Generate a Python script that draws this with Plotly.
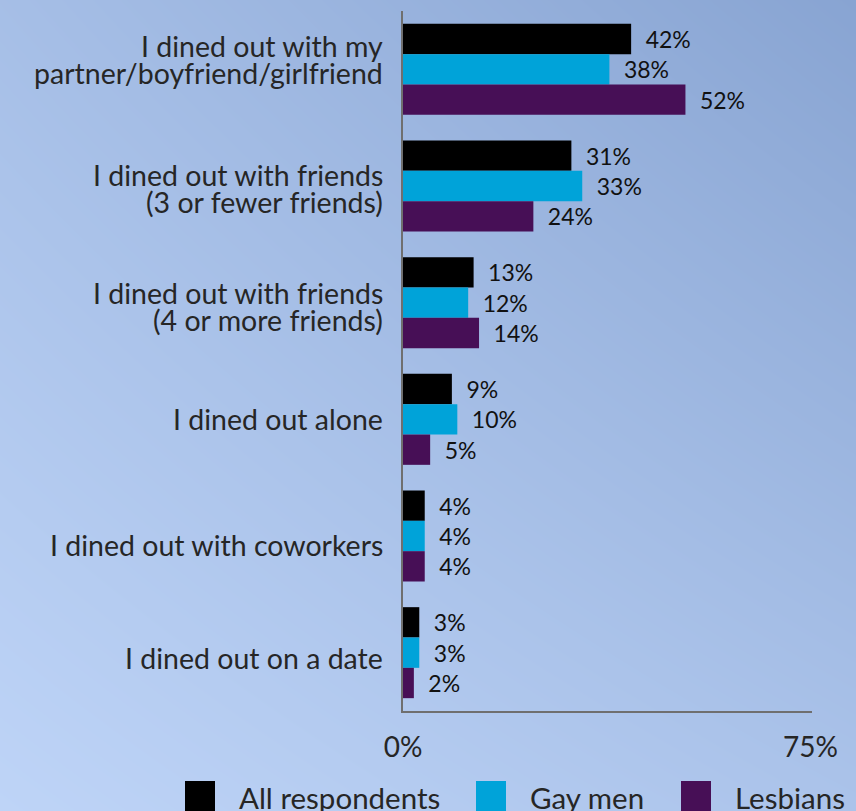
import plotly.graph_objects as go

# Survey answers (percent of respondents)
categories = [
    "I dined out with my<br>partner/boyfriend/girlfriend",
    "I dined out with friends<br>(3 or fewer friends)",
    "I dined out with friends<br>(4 or more friends)",
    "I dined out alone",
    "I dined out with coworkers",
    "I dined out on a date",
]
all_respondents = [42, 31, 13, 9, 4, 3]
gay_men = [38, 33, 12, 10, 4, 3]
lesbians = [52, 24, 14, 5, 4, 2]

series_names = ["All respondents", "Gay men", "Lesbians"]
series_values = [all_respondents, gay_men, lesbians]
series_colors = ["#000000", "#00a3d9", "#470f56"]

x_tick_vals = [0, 75]
x_tick_text = ["0%", "75%"]

W, H = 856, 811
FONT = "Lato, 'Open Sans', sans-serif"
TEXT_COLOR = "#262626"
AXIS_COLOR = "#6f6f6f"

# vertical pixel offsets of each category label line from its bar group centre
label_line_offsets = [[-23.5, 3.5], [-11.5, 15.5], [-10, 17], [0], [9], [5]]

fig = go.Figure()

# Soft diagonal blue gradient behind the whole chart
fig.add_trace(go.Heatmap(
    x=[0, 1], y=[0, 1],
    z=[[0.0, 0.35], [0.45, 1.0]],
    zmin=0, zmax=1,
    colorscale=[[0, "#bed4f7"], [1, "#88a4d2"]],
    zsmooth="best", showscale=False, hoverinfo="skip",
    xaxis="x", yaxis="y",
))

for name, vals, color in zip(series_names, series_values, series_colors):
    fig.add_trace(go.Bar(
        y=categories, x=vals, name=name, orientation="h",
        marker=dict(color=color, line=dict(width=0)),
        text=[f"\u2002{v}%" for v in vals],
        textposition="outside", cliponaxis=False,
        textfont=dict(family=FONT, size=23, color="#111111"),
        xaxis="x2", yaxis="y2", showlegend=False,
    ))

x0, x1 = 403 / W, 812 / W
y_top, y_bot = 1 - 11 / H, 1 - 711 / H

fig.update_layout(
    width=W, height=H,
    margin=dict(l=0, r=0, t=0, b=0, autoexpand=False),
    paper_bgcolor="#a9c1e8", plot_bgcolor="rgba(0,0,0,0)",
    barmode="group", bargap=0.22, bargroupgap=0,
    font=dict(family=FONT, color=TEXT_COLOR),
    xaxis=dict(domain=[0, 1], range=[0, 1], visible=False, fixedrange=True,
               automargin=False),
    yaxis=dict(domain=[0, 1], range=[0, 1], visible=False, fixedrange=True,
               automargin=False),
    xaxis2=dict(
        domain=[x0, x1], range=[0, 75.3], anchor="y2", automargin=False,
        showgrid=False, zeroline=False,
        showline=True, linecolor=AXIS_COLOR, linewidth=2,
        tickvals=x_tick_vals, ticktext=x_tick_text,
        ticks="outside", ticklen=10, tickcolor="rgba(0,0,0,0)",
        tickfont=dict(family=FONT, size=28, color=TEXT_COLOR),
    ),
    yaxis2=dict(
        domain=[y_bot, y_top], anchor="x2", automargin=False,
        autorange="reversed", showgrid=False, zeroline=False,
        showline=True, linecolor=AXIS_COLOR, linewidth=2,
        showticklabels=False, ticks="",
    ),
    showlegend=False,
)

# Category labels, one annotation per text line for tight line spacing
for cat, offsets in zip(categories, label_line_offsets):
    for line, off in zip(cat.split("<br>"), offsets):
        fig.add_annotation(
            xref="paper", yref="y2", x=385 / W, y=cat, yshift=-off,
            text=line, showarrow=False, xanchor="right", yanchor="middle",
            font=dict(family=FONT, size=28.5, color=TEXT_COLOR),
        )

# Legend row along the bottom edge
legend_x = [185, 476, 681]
for name, color, lx in zip(series_names, series_colors, legend_x):
    fig.add_shape(
        type="rect", xref="paper", yref="paper",
        x0=lx / W, x1=(lx + 30) / W, y0=1 - 811 / H, y1=1 - 781 / H,
        fillcolor=color, line=dict(width=0),
    )
    fig.add_annotation(
        xref="paper", yref="paper", x=(lx + 52) / W, y=1 - 797 / H,
        text=name, showarrow=False, xanchor="left", yanchor="middle",
        font=dict(family=FONT, size=29.5, color=TEXT_COLOR),
    )

fig.write_html("out.html")
